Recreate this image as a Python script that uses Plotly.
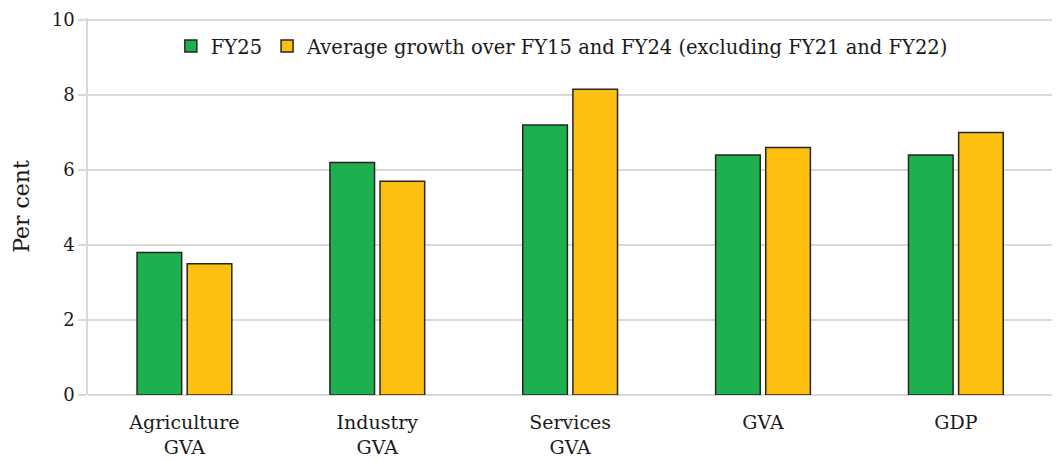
import plotly.graph_objects as go

categories = ["Agriculture<br>GVA", "Industry<br>GVA", "Services<br>GVA", "GVA", "GDP"]
fy25 = [3.8, 6.2, 7.2, 6.4, 6.4]
avg_fy15_fy24 = [3.5, 5.7, 8.15, 6.6, 7.0]
y_ticks = [0, 2, 4, 6, 8, 10]

FONT = "DejaVu Serif, Georgia, serif"
GRID = "#d9d9d9"

fig = go.Figure()
fig.add_trace(go.Bar(
    x=categories, y=fy25, name="FY25",
    marker=dict(color="#1eb04e", line=dict(color="#262626", width=1.5)),
))
fig.add_trace(go.Bar(
    x=categories, y=avg_fy15_fy24,
    name="Average growth over FY15 and FY24 (excluding FY21 and FY22)",
    marker=dict(color="#fdbf10", line=dict(color="#262626", width=1.5)),
))

# page body has an 8px margin, so the figure is sized to fit inside it
fig.update_layout(
    width=1052, height=454,
    paper_bgcolor="white", plot_bgcolor="white",
    font=dict(family=FONT, color="#1a1a1a", size=18),
    margin=dict(l=80, r=0, t=10, b=67, autoexpand=False),
    barmode="group", bargap=0.48, bargroupgap=0.11,
    legend=dict(
        orientation="h", x=0.488, xanchor="center", y=0.925, yanchor="middle",
        font=dict(size=19.5), bgcolor="rgba(0,0,0,0)",
        itemwidth=30, tracegroupgap=0,
    ),
)
fig.update_xaxes(
    showgrid=False, showline=False, automargin=False,
    ticks="outside", ticklen=10, tickcolor="white",
    tickfont=dict(size=19), range=[-0.5, 4.54],
)
fig.update_yaxes(
    range=[0, 10.05], tickvals=y_ticks, automargin=False,
    showgrid=True, gridcolor=GRID, gridwidth=1.5,
    showline=True, linecolor=GRID, linewidth=1.5,
    ticks="outside", ticklen=8, tickcolor=GRID, tickwidth=1.5,
    zeroline=True, zerolinecolor=GRID, zerolinewidth=1.5,
    tickfont=dict(size=18),
    title=dict(text="Per cent", font=dict(size=22), standoff=16),
)

fig.write_html("out.html")
